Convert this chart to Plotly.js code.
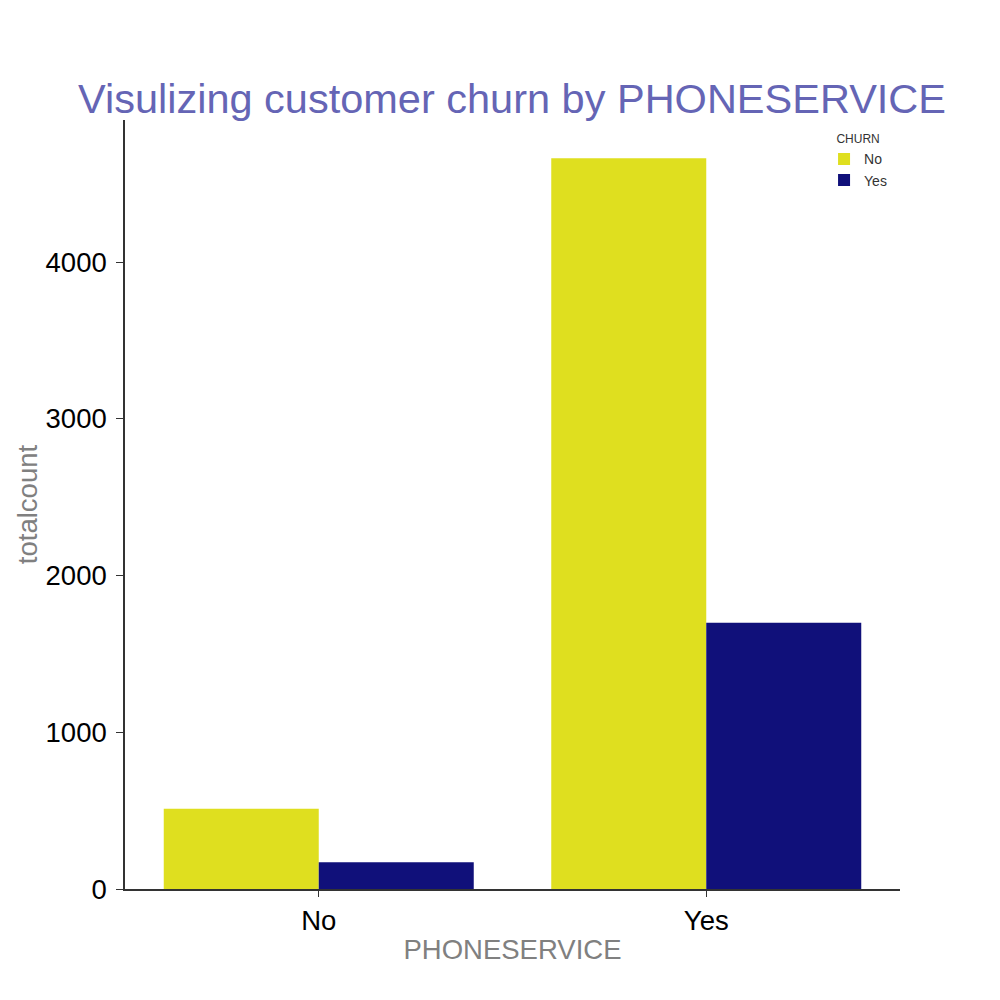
<!DOCTYPE html>
<html><head><meta charset="utf-8">
<script src="https://cdn.plot.ly/plotly-3.0.1.min.js"></script>
<style>body{margin:0}#c{width:1000px;height:1000px}</style>
</head><body><div id="c"></div>
<script>
const categories = ["No", "Yes"];
const churnNo = [512, 4662];
const churnYes = [170, 1699];
const seriesNames = ["No", "Yes"];
const yTicks = [0, 1000, 2000, 3000, 4000];

const data = [
  {type: "bar", name: seriesNames[0], x: categories, y: churnNo, marker: {color: "#dfdf1f"}},
  {type: "bar", name: seriesNames[1], x: categories, y: churnYes, marker: {color: "#10107a"}}
];
const FF = "Liberation Sans, Arial, sans-serif";
const axisFont = {family: FF, size: 27.5, color: "#000"};
const layout = {
  width: 1000, height: 1000,
  margin: {l: 125, r: 100, t: 120, b: 111},
  paper_bgcolor: "#fff", plot_bgcolor: "#fff",
  barmode: "group", bargap: 0.2, bargroupgap: 0,
  title: {text: "Visulizing customer churn by PHONESERVICE", x: 0.512, xanchor: "center", y: 0.902, yanchor: "middle",
          font: {family: FF, size: 41.5, color: "#6565b5"}},
  xaxis: {range: [-0.5, 1.5], showline: true, linecolor: "#333", linewidth: 1.5, ticks: "outside", ticklen: 6, tickcolor: "#333",
          tickfont: axisFont, showgrid: false, zeroline: false,
          title: {text: "PHONESERVICE", font: {family: FF, size: 27.5, color: "#808080"}, standoff: 5}},
  yaxis: {range: [0, 4906], showline: true, linecolor: "#333", linewidth: 1.5, ticks: "outside", ticklen: 7, tickcolor: "#333",
          ticklabelstandoff: 4,
          tickvals: yTicks, ticktext: yTicks.map(String), tickfont: axisFont, showgrid: false, zeroline: false,
          title: {text: "totalcount", font: {family: FF, size: 27.5, color: "#808080"}, standoff: 0}},
  legend: {x: 0.902, xanchor: "left", y: 0.99, yanchor: "top", bgcolor: "rgba(0,0,0,0)",
           title: {text: "CHURN", font: {family: FF, size: 12, color: "#333"}, side: "top center"},
           font: {family: FF, size: 14, color: "#333"}, tracegroupgap: 0}
};
Plotly.newPlot("c", data, layout, {displayModeBar: false});
</script></body></html>
